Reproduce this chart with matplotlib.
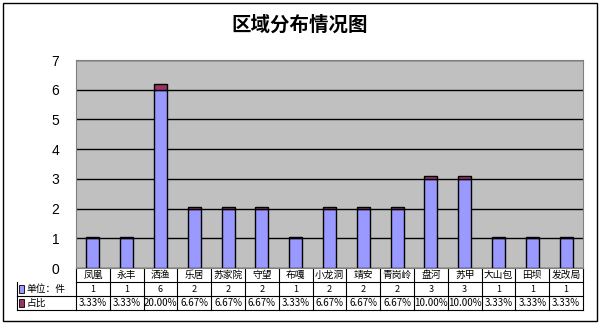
import matplotlib.pyplot as plt
from matplotlib.patches import Rectangle
import numpy as np

plt.rcParams['font.family'] = ['Noto Sans CJK SC', 'DejaVu Sans']

towns = ["凤凰", "永丰", "洒渔", "乐居", "苏家院", "守望", "布嘎", "小龙洞",
         "靖安", "青岗岭", "盘河", "苏甲", "大山包", "田坝", "发改局"]
units = [1, 1, 6, 2, 2, 2, 1, 2, 2, 2, 3, 3, 1, 1, 1]
share = [0.0333, 0.0333, 0.20, 0.0667, 0.0667, 0.0667, 0.0333, 0.0667,
         0.0667, 0.0667, 0.10, 0.10, 0.0333, 0.0333, 0.0333]
share_labels = ["3.33%", "3.33%", "20.00%", "6.67%", "6.67%", "6.67%", "3.33%",
                "6.67%", "6.67%", "6.67%", "10.00%", "10.00%", "3.33%", "3.33%", "3.33%"]

c_units = "#9999FF"
c_share = "#993366"

W, H = 600, 324
fig = plt.figure(figsize=(W / 100, H / 100), dpi=100)
ax = fig.add_axes([76 / W, (H - 268) / H, 507 / W, 208 / H])

x = np.arange(len(towns))
ax.set_facecolor("#C0C0C0")
ax.bar(x, units, width=0.38, color=c_units, edgecolor="black", linewidth=1, zorder=3)
ax.bar(x, share, bottom=units, width=0.38, color=c_share, edgecolor="black",
       linewidth=1, zorder=3)

ax.set_xlim(-0.5, len(towns) - 0.5)
ax.set_ylim(0, 7)
ax.set_yticks(range(8))
ax.set_yticklabels([str(i) for i in range(8)], family="Liberation Sans", fontsize=10)
ax.tick_params(axis="y", length=0, pad=12)
ax.set_xticks([])
ax.grid(axis="y", color="black", linewidth=1, zorder=1)
for s in ax.spines.values():
    s.set_color("#808080")

# data table under the plot
row_h = 14 / 208
x_left = -0.5 - 59 / (507 / len(towns))
trans = ax.get_xaxis_transform()
line_kw = dict(color="black", linewidth=0.8, clip_on=False, transform=trans)
for r in range(1, 4):
    ax.plot([x_left if r > 1 else -0.5, len(towns) - 0.5], [-r * row_h] * 2, **line_kw)
ax.plot([x_left, x_left], [-row_h, -3 * row_h], **line_kw)
for i in range(len(towns) + 1):
    ax.plot([i - 0.5, i - 0.5], [0, -3 * row_h], **line_kw)

for i, t in enumerate(towns):
    ax.text(i, -0.5 * row_h, t, transform=trans, ha="center", va="center", fontsize=7)
    ax.text(i, -1.5 * row_h, str(units[i]), transform=trans, ha="center", va="center", fontsize=6.5)
    ax.text(i, -2.5 * row_h, share_labels[i], transform=trans, ha="center", va="center", fontsize=7)

for r, (lab, col) in enumerate([("单位：件", c_units), ("占比", c_share)]):
    yc = -(1.5 + r) * row_h
    ax.add_patch(Rectangle((x_left + 0.05, yc - 0.02), 0.17, 0.04, transform=trans,
                           facecolor=col, edgecolor="black", linewidth=0.6, clip_on=False))
    ax.text(x_left + 0.28, yc, lab, transform=trans, ha="left", va="center", fontsize=7)

fig.text(0.5, (H - 25) / H, "区域分布情况图", ha="center", va="center",
         fontsize=14, fontweight="bold")
fig.patches.append(Rectangle((3 / W, 3 / H), 594 / W, 318 / H, transform=fig.transFigure,
                             fill=False, edgecolor="black", linewidth=1))

fig.savefig("out.png", dpi=100)
